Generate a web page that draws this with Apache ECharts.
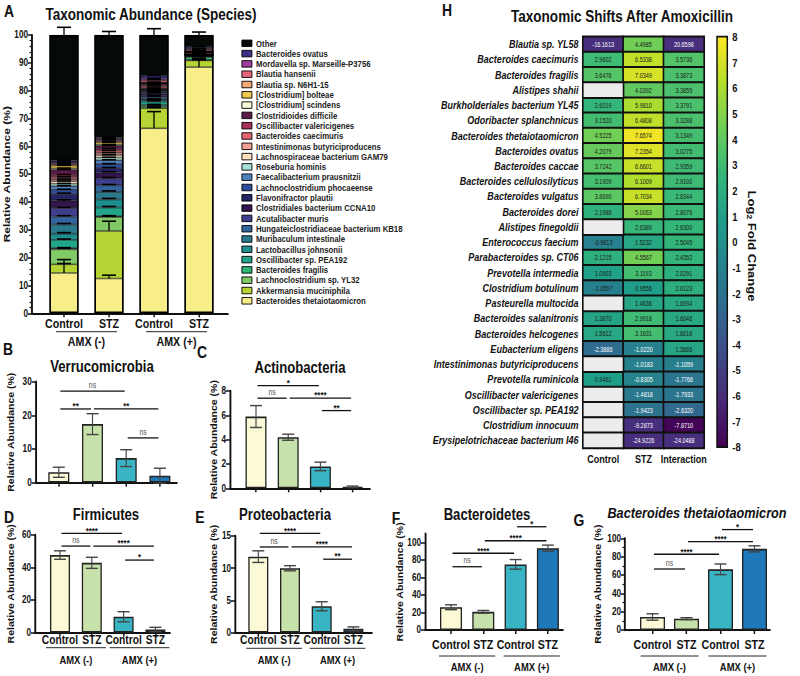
<!DOCTYPE html>
<html><head><meta charset="utf-8">
<script src="https://cdn.jsdelivr.net/npm/echarts@6/dist/echarts.min.js"></script>
<style>html,body{margin:0;padding:0;background:#fff;overflow:hidden;width:800px;height:676px}#c{height:676px;transform-origin:0 0}</style>
</head><body><div id="c"></div>
<script>
// The original figure is horizontally compressed; we lay out in a wider space and squeeze it.
const S = 0.82;
const X = v => v / S;
const FONT = "'Liberation Sans',Arial,sans-serif";

// ---------- Panel A data (bottom -> top of stack) ----------
const speciesNames = ['Bacteroides thetaiotaomicron','Akkermansia muciniphila','Lachnoclostridium sp. YL32','Bacteroides fragilis','Oscillibacter sp. PEA192','Lactobacillus johnsonii','Muribaculum intestinale','Hungateiclostridiaceae bacterium KB18','Acutalibacter muris','Clostridiales bacterium CCNA10','Flavonifractor plautii','Lachnoclostridium phocaeense','Faecalibacterium prausnitzii','Roseburia hominis','Lachnospiraceae bacterium GAM79','Intestinimonas butyriciproducens','Bacteroides caecimuris','Oscillibacter valericigenes','Clostridioides difficile','[Clostridium] scindens','[Clostridium] bolteae','Blautia sp. N6H1-15','Blautia hansenii','Mordavella sp. Marseille-P3756','Bacteroides ovatus','Other'];
const speciesColors = ['#f7ee8a','#b6d433','#80c965','#2fb774','#22a58a','#1e8f8e','#2a7a8e','#33659d','#403f8e','#34164f','#252566','#2e4fa0','#4f83c0','#a8e1da','#fce0c0','#f3a094','#e26672','#a83059','#5c1a4a','#fcfbdc','#f1c94e','#f6a877','#e8667a','#9c3d9e','#3b2f86','#050a08'];
const groupLabels = ['Control','STZ','Control','STZ'];
const amxGroupNames = ['AMX (-)','AMX (+)'];
const amxGroups = [[0,1],[2,3]];
const ctrlMinus = [14.5,3.1,5.4,0.4,3.0,2.2,3.3,2.9,3.0,2.7,2.4,1.5,1.3,0.9,0.9,0.7,0.8,0.8,1.8,0.5,1.0,0.4,0.4,0.4,0.6,45.1];
const stzMinus  = [12.5,17.1,5.0,0.3,3.1,2.9,2.7,2.4,2.5,2.1,1.6,1.4,1.4,1.0,0.9,0.8,0.8,0.7,1.0,0.4,0.8,0.4,0.5,0.4,0.5,36.8];
const ctrlPlus  = [66.5,7.2,0.6,0.6,1.2,0.6,0.3,0.8,0.4,0.8,0.6,0.4,0.2,0.2,0.2,0.3,0.6,0.6,0.5,0.1,0.1,0.2,0.8,0.6,1.0,14.6];
const stzPlus   = [88.5,2.4,0.2,1.0,0.3,0.1,0.1,0.1,0.1,0.1,0.1,0.05,0.05,0.05,0.05,0.1,0.5,0.1,0.1,0.05,0.05,0.1,0.6,0.3,0.6,4.3];
const ctrlMinusErr = [4.8,0.3,0.4,0.2,0.3,0.4,0.4,0.3,0.3,0.3,0.3,0.2,0.2,0.1,0.1,0.1,0.1,0.1,0.1,0.1,0.1,0.1,0.1,0.1,0.1,2.8];
const stzMinusErr  = [1.2,3.5,0.3,0.2,0.4,0.4,0.4,0.3,0.3,0.3,0.2,0.2,0.2,0.1,0.1,0.1,0.1,0.1,0.1,0.1,0.1,0.1,0.1,0.1,0.1,1.3];
const ctrlPlusErr  = [6.0,0.3,0.2,0.2,0.3,0.2,0.1,0.2,0.1,0.2,0.1,0.1,0.1,0.1,0.1,0.1,0.2,0.2,0.1,0.1,0.1,0.1,0.2,0.1,0.2,2.3];
const stzPlusErr   = [3.2,0.4,0.1,0.3,0.1,0.1,0.1,0.1,0.1,0.1,0.1,0.1,0.1,0.1,0.1,0.1,0.2,0.1,0.1,0.1,0.1,0.1,0.2,0.1,0.2,1.1];

// ---------- Panels B-G ----------
const barColors = ['#fbf9d6','#c7e1aa','#38b4c4','#1f78b9'];
const verrucoMean = [3.1,17.4,7.3,2.1];   const verrucoErr = [1.5,3.1,2.5,2.2];
const actinoMean  = [5.9,4.2,1.8,0.12];   const actinoErr  = [0.9,0.25,0.35,0.06];
const firmiMean   = [47.7,42.9,9.8,2.0];  const firmiErr   = [2.6,3.4,3.1,1.3];
const proteoMean  = [11.8,10.0,4.1,0.6];  const proteoErr  = [0.9,0.4,0.7,0.3];
const bacteroMean = [26,20.8,75,93.5];    const bacteroErr = [2.8,1.5,5.5,3.5];
const thetaMean   = [14.2,12.4,66.2,88.5];const thetaErr   = [3.5,1.0,5.8,3.3];
const verrucoSig = [[0,2,27.2,'ns'],[0,1,21.9,'**'],[1,3,21.9,'**'],[2,3,13.3,'ns']];
const actinoSig  = [[0,2,8.44,'*'],[0,1,7.41,'ns'],[1,3,7.41,'****'],[2,3,6.39,'**']];
const firmiSig   = [[0,2,61,'****'],[0,1,53.2,'ns'],[1,3,53.2,'****'],[2,3,44.6,'*']];
const proteoSig  = [[0,2,15.4,'****'],[0,1,13.3,'ns'],[1,3,13.3,'****'],[2,3,11.4,'**']];
const bacteroSig = [[2,3,118,'*'],[1,3,102,'****'],[0,2,87.7,'****'],[0,1,72.3,'ns']];
const thetaSig   = [[2,3,109.5,'*'],[1,3,96.3,'****'],[0,2,82.6,'****'],[0,1,66.5,'ns']];

// ---------- Panel H ----------
const hmRows = ['Blautia sp. YL58','Bacteroides caecimuris','Bacteroides fragilis','Alistipes shahii','Burkholderiales bacterium YL45','Odoribacter splanchnicus','Bacteroides thetaiotaomicron','Bacteroides ovatus','Bacteroides caccae','Bacteroides cellulosilyticus','Bacteroides vulgatus','Bacteroides dorei','Alistipes finegoldii','Enterococcus faecium','Parabacteroides sp. CT06','Prevotella intermedia','Clostridium botulinum','Pasteurella multocida','Bacteroides salanitronis','Bacteroides helcogenes','Eubacterium eligens','Intestinimonas butyriciproducens','Prevotella ruminicola','Oscillibacter valericigenes','Oscillibacter sp. PEA192','Clostridium innocuum','Erysipelotrichaceae bacterium I46'];
const hmCols = ['Control','STZ','Interaction'];
const hmControl = [-16.1613,2.9602,3.6476,null,2.6019,3.1520,4.5225,4.2079,3.7242,3.1909,3.8690,2.1988,null,-0.9813,2.1215,1.0903,-1.0567,null,1.3870,1.5612,-2.3886,null,0.9461,null,null,null,null];
const hmSTZ = [4.4985,6.5338,7.0349,4.0392,5.9810,6.4808,7.6574,7.2354,6.6601,6.1009,6.7034,5.0063,2.6389,1.5232,4.5567,3.1193,0.9556,1.4638,2.9918,3.1631,-1.0220,-1.0183,-0.8305,-1.4818,-1.9423,-9.2873,-24.9226];
const hmInter = [20.6598,3.5736,3.3873,3.3855,3.3791,3.3288,3.1349,3.0275,2.9359,2.9100,2.8344,2.8076,2.6300,2.5045,2.4352,2.0291,2.0123,1.6934,1.6048,1.6018,1.3666,-1.1059,-1.7766,-1.7933,-2.6320,-7.8710,-24.0488];
const colorbarRange = [-8, 8];
const colorbarInterval = 1;
const viridis = ['#440154','#482878','#3e4989','#31688e','#26828e','#1f9e89','#35b779','#6ece58','#b5de2b','#fde725'];

// ---------- layout (final pixel coordinates, x converted with X()) ----------
const panels = [
  {top:35.1, height:278.2, axL:32, axR:228, c0:64, sp:45, yMax:100, interval:10, minor:5, nameGap:16, nameSize:12, showX:true, xFont:13, xMargin:4, ext:8, lineOff:18.4, textOff:28.4, amxFont:13},
  {top:381.7, height:101, axL:35.7, axR:177, c0:58.8, sp:33.7, yMax:30, interval:10, nameGap:20, nameSize:10.5, showX:false, mean:verrucoMean, err:verrucoErr, sig:verrucoSig, barWidth:21},
  {top:391, height:97.3, axL:230, axR:370, c0:256, sp:32.2, yMax:8, interval:2, nameGap:8, nameSize:10.5, showX:false, mean:actinoMean, err:actinoErr, sig:actinoSig, barWidth:21},
  {top:535, height:97.7, axL:35, axR:170, c0:60, sp:31.8, yMax:60, interval:20, nameGap:20, nameSize:10.5, showX:true, xFont:12.5, xMargin:0, mean:firmiMean, err:firmiErr, sig:firmiSig, barWidth:20, ext:14, lineOff:15, textOff:27.3, amxFont:11.5},
  {top:536, height:96.7, axL:235, axR:372, c0:258.3, sp:31.7, yMax:15, interval:5, nameGap:7, nameSize:10.5, showX:true, xFont:12.5, xMargin:0, mean:proteoMean, err:proteoErr, sig:proteoSig, barWidth:20, ext:12, lineOff:15.6, textOff:27.3, amxFont:11.5},
  {top:533.75, height:96.25, axL:425, axR:563, c0:451, sp:32.3, yMax:110, interval:20, custom:[0,20,40,60,80,100], nameGap:18, nameSize:10.5, showX:true, xFont:13, xMargin:8, mean:bacteroMean, err:bacteroErr, sig:bacteroSig, barWidth:22, ext:12, lineOff:26, textOff:36.7, amxFont:11.5},
  {top:538.3, height:91.7, axL:625, axR:770, c0:652.5, sp:34, yMax:100, interval:20, minor:2, nameGap:23, nameSize:10.5, showX:true, xFont:13, xMargin:8, mean:thetaMean, err:thetaErr, sig:thetaSig, barWidth:25, ext:12, lineOff:26, textOff:36.7, amxFont:11.5}
];

const grids = [], xAxes = [], yAxes = [], series = [];
panels.forEach((p, gi) => {
  grids.push({left:X(p.axL), top:p.top, width:X(p.axR - p.axL), height:p.height});
  xAxes.push({type:'value', gridIndex:gi, min:(p.axL - p.c0) / p.sp, max:(p.axR - p.c0) / p.sp, splitLine:{show:false},
    axisLine:{show:true, onZero:false, lineStyle:{color:'#111', width:1.8}},
    axisTick:{show:true, customValues:[0,1,2,3], length:4, lineStyle:{color:'#111', width:1.8}},
    axisLabel:{show:p.showX, customValues:[0,1,2,3], hideOverlap:false, showMinLabel:true, showMaxLabel:true,
      formatter:v => groupLabels[Math.round(v)] || '', fontSize:p.xFont || 12, fontWeight:'bold', color:'#111', margin:p.xMargin || 0, fontFamily:FONT}});
  const yl = {fontSize:10, fontWeight:'bold', color:'#111', margin:X(4), fontFamily:FONT};
  const yt = {show:true, length:X(4), lineStyle:{color:'#111', width:1.5}};
  if (p.custom) { yl.customValues = p.custom; yt.customValues = p.custom; }
  yAxes.push({type:'value', gridIndex:gi, min:0, max:p.yMax, interval:p.interval, splitLine:{show:false},
    axisLine:{show:true, onZero:false, lineStyle:{color:'#111', width:2.3}},
    axisTick:yt, axisLabel:yl,
    minorTick: p.minor ? {show:true, splitNumber:p.minor, length:X(2.5), lineStyle:{color:'#111', width:1.2}} : {show:false},
    name:'Relative Abundance (%)', nameLocation:'middle', nameGap:X(p.nameGap),
    nameTextStyle:{fontSize:p.nameSize, fontWeight:'bold', color:'#111', fontFamily:FONT}});

  if (p.showX) {
    series.push({type:'custom', xAxisIndex:gi, yAxisIndex:gi, clip:false, silent:true, z:5,
      data: amxGroups.map(g => [g[0], g[1]]),
      renderItem: (params, api) => {
        const a = api.coord([api.value(0), 0]), b = api.coord([api.value(1), 0]);
        const y = a[1];
        return {type:'group', children:[
          {type:'line', shape:{x1:a[0]-X(p.ext), y1:y+p.lineOff, x2:b[0]+X(p.ext), y2:y+p.lineOff}, style:{stroke:'#111', lineWidth:1}},
          {type:'text', x:(a[0]+b[0])/2, y:y+p.textOff, style:{text:amxGroupNames[params.dataIndex], align:'center', verticalAlign:'middle', fontSize:p.amxFont, fontWeight:'bold', fontFamily:FONT, fill:'#111'}}
        ]};
      }});
  }
  if (gi > 0) {
    series.push({type:'bar', xAxisIndex:gi, yAxisIndex:gi, barWidth:X(p.barWidth), silent:true,
      data: p.mean.map((v, i) => ({value:[i, v], itemStyle:{color:barColors[i]}})),
      itemStyle:{borderColor:'#222', borderWidth:1.6}});
    series.push({type:'custom', xAxisIndex:gi, yAxisIndex:gi, clip:false, silent:true, z:4,
      data: p.mean.map((v, i) => [i, v, p.err[i]]),
      renderItem: (params, api) => {
        const x = api.value(0), m = api.value(1), e = api.value(2);
        const lo = api.coord([x, m - e]), hi = api.coord([x, m + e]);
        const w = X(6);
        const st = {stroke:'#444', lineWidth:1.4};
        return {type:'group', children:[
          {type:'line', shape:{x1:lo[0], y1:lo[1], x2:hi[0], y2:hi[1]}, style:st},
          {type:'line', shape:{x1:hi[0]-w, y1:hi[1], x2:hi[0]+w, y2:hi[1]}, style:st},
          {type:'line', shape:{x1:lo[0]-w, y1:lo[1], x2:lo[0]+w, y2:lo[1]}, style:st}
        ]};
      }});
    series.push({type:'custom', xAxisIndex:gi, yAxisIndex:gi, clip:false, silent:true, z:6,
      data: p.sig.map(s => [s[0], s[2], s[1]]),
      renderItem: (params, api) => {
        const s = p.sig[params.dataIndex];
        const a = api.coord([s[0], s[2]]), b = api.coord([s[1], s[2]]);
        const isNs = s[3] === 'ns';
        return {type:'group', children:[
          {type:'line', shape:{x1:a[0]+X(1.5), y1:a[1], x2:b[0]-X(1.5), y2:b[1]}, style:{stroke:'#111', lineWidth:1.3}},
          {type:'text', x:(a[0]+b[0])/2, y:a[1] - (isNs ? 1.5 : 0), style:{text:s[3], align:'center', verticalAlign:'bottom', fontSize:isNs ? 8.5 : 9.5, fontWeight:isNs ? 'normal' : 'bold', fontFamily:FONT, fill:isNs ? '#555' : '#111', lineHeight:isNs ? 9 : 6}}
        ]};
      }});
  }
});

// Panel A stacked-bar error bars on the visible value axes (grid 0)
const groupsA = [ctrlMinus, stzMinus, ctrlPlus, stzPlus];
const errsA = [ctrlMinusErr, stzMinusErr, ctrlPlusErr, stzPlusErr];
const errDataA = [];
groupsA.forEach((g, i) => { let cum = 0; g.forEach((v, k) => { cum += v; errDataA.push([i, cum, errsA[i][k]]); }); });
series.push({type:'custom', xAxisIndex:0, yAxisIndex:0, clip:false, silent:true, z:5, data: errDataA,
  renderItem: (params, api) => {
    const x = api.value(0), t = api.value(1), e = api.value(2);
    const p0 = api.coord([x, t]), p1 = api.coord([x, t + e]);
    const st = {stroke:'#000', lineWidth:1.6};
    return {type:'group', children:[
      {type:'line', shape:{x1:p0[0], y1:p0[1], x2:p1[0], y2:p1[1]}, style:st},
      {type:'line', shape:{x1:p1[0]-X(7), y1:p1[1], x2:p1[0]+X(7), y2:p1[1]}, style:st}
    ]};
  }});

// Panel H heatmap (grid 7)
grids.push({left:X(583), top:36.7, width:X(121), height:411.3});
xAxes.push({type:'category', gridIndex:7, data:hmCols, position:'bottom', axisLine:{show:false}, axisTick:{show:false},
  axisLabel:{interval:0, fontSize:11, fontWeight:'bold', color:'#111', margin:6, fontFamily:FONT}, splitLine:{show:false}});
yAxes.push({type:'category', gridIndex:7, data:hmRows, inverse:true, axisLine:{show:false}, axisTick:{show:false},
  axisLabel:{interval:0, fontSize:11, fontWeight:'bold', fontStyle:'italic', color:'#111', margin:X(4.5), fontFamily:FONT}, splitLine:{show:false}});
// colorbar axis (grid 8)
grids.push({left:X(717), top:36.7, width:X(10.3), height:410.3, show:true, borderColor:'#111', borderWidth:1.8, z:10, backgroundColor:'transparent'});
xAxes.push({type:'value', gridIndex:8, show:false, min:0, max:1});
yAxes.push({type:'value', gridIndex:8, position:'right', min:colorbarRange[0], max:colorbarRange[1], interval:colorbarInterval,
  axisLine:{show:false}, splitLine:{show:false},
  axisTick:{show:true, length:X(4), lineStyle:{color:'#111', width:1.5}},
  axisLabel:{fontSize:11.5, fontWeight:'bold', color:'#111', margin:X(5), fontFamily:FONT}});
// Panel A stacked bars on a category axis in an overlaid grid (grid 9)
grids.push({left:X(panels[0].c0 - panels[0].sp / 2), top:panels[0].top, width:X(panels[0].sp * 4), height:panels[0].height});
xAxes.push({type:'category', gridIndex:9, show:false, data:groupLabels.map((g, i) => i)});
yAxes.push({type:'value', gridIndex:9, show:false, min:0, max:100});
speciesNames.forEach((name, k) => {
  series.push({type:'bar', name, stack:'A', xAxisIndex:9, yAxisIndex:9, barWidth:X(29), silent:true,
    data: groupsA.map(g => g[k]),
    itemStyle:{color:speciesColors[k], borderColor:'#000', borderWidth:0.6}});
});
// outline of the whole stacked column
series.push({type:'bar', xAxisIndex:9, yAxisIndex:9, barWidth:X(29), barGap:'-100%', silent:true, z:3,
  data: groupsA.map(g => g.reduce((s, v) => s + v, 0)),
  itemStyle:{color:'rgba(0,0,0,0)', borderColor:'#000', borderWidth:1.8}});

const hmCols3 = [hmControl, hmSTZ, hmInter];
const hmData = [], hmMissing = [];
hmCols3.forEach((col, c) => col.forEach((v, r) => {
  if (v === null) { hmMissing.push([c, r, 0]); return; }
  const white = (c === 0) ? (v < -2 || Math.abs(v) > 8) : (v < -0.8 || Math.abs(v) > 8);
  hmData.push({value:[c, r, v], label:{color: white ? '#ffffff' : '#1a1a1a'}});
}));
const hmSeriesIndex = series.length;
series.push({type:'heatmap', xAxisIndex:7, yAxisIndex:7, data:hmData, silent:true,
  itemStyle:{borderColor:'#111', borderWidth:2},
  label:{show:true, fontSize:6.7, fontFamily:FONT, formatter: p => p.value[2].toFixed(4)}});
series.push({type:'heatmap', xAxisIndex:7, yAxisIndex:7, data:hmMissing, silent:true,
  itemStyle:{color:'#ececec', borderColor:'#111', borderWidth:2}});

const T = (text, x, y, size, extra) => Object.assign({type:'text', x:X(x), y, silent:true,
  style:Object.assign({text, align:'center', verticalAlign:'middle', fontSize:size, fontWeight:'bold', fontFamily:FONT, fill:'#111'}, extra || {})});

const option = {
  animation:false,
  backgroundColor:'#fff',
  textStyle:{fontFamily:FONT},
  grid:grids, xAxis:xAxes, yAxis:yAxes, series,
  legend:{show:true, orient:'vertical', left:X(241.5), top:38.3, icon:'rect', itemWidth:X(10), itemHeight:6.5, itemGap:0.3,
    padding:0, selectedMode:false, data:speciesNames.slice().reverse(),
    itemStyle:{borderColor:'#000', borderWidth:1},
    textStyle:{fontSize:9.5, fontWeight:'bold', color:'#222', fontFamily:FONT, lineHeight:10}},
  visualMap:{type:'continuous', seriesIndex:hmSeriesIndex, dimension:2, min:colorbarRange[0], max:colorbarRange[1],
    range:[colorbarRange[0] + 1e-4, colorbarRange[1] - 1e-4], calculable:false, orient:'vertical',
    left:X(717), top:36.7, itemWidth:X(10.3), itemHeight:410.3, padding:0, showLabel:false, hoverLink:false,
    inRange:{color:viridis}, outOfRange:{color:'#472f7d'}},
  graphic:[
    T('A', 9, 11, 17), T('B', 8, 349, 17), T('C', 202, 352, 17),
    T('D', 9, 517, 17), T('E', 200, 517, 17), T('F', 396, 518, 17),
    T('G', 579, 520, 17), T('H', 447, 10, 17),
    T('Taxonomic Abundance (Species)', 151, 14, 16.5),
    T('Verrucomicrobia', 102, 367, 16),
    T('Actinobacteria', 300, 368, 16),
    T('Firmicutes', 106, 515, 16),
    T('Proteobacteria', 285, 515, 16),
    T('Bacteroidetes', 487, 515, 16),
    T('Bacteroides thetaiotaomicron', 697, 513, 15.5, {fontStyle:'italic'}),
    T('Taxonomic Shifts After Amoxicillin', 622, 16, 16.5),
    {type:'text', x:X(752), y:246, rotation:-Math.PI/2, silent:true,
      style:{text:'{a|Log}{s|2}{a| Fold Change}', align:'center', verticalAlign:'middle', fill:'#111',
        rich:{a:{fontSize:13, fontWeight:'bold', fontFamily:FONT}, s:{fontSize:8.5, fontWeight:'bold', fontFamily:FONT, padding:[6,0,0,0]}}}}
  ]
};
const el = document.getElementById('c');
el.style.width = X(800) + 'px';
el.style.transform = 'scaleX(' + S + ')';
const chart = echarts.init(el, null, {renderer:'svg', width:X(800), height:676});
chart.setOption(option);
</script></body></html>
